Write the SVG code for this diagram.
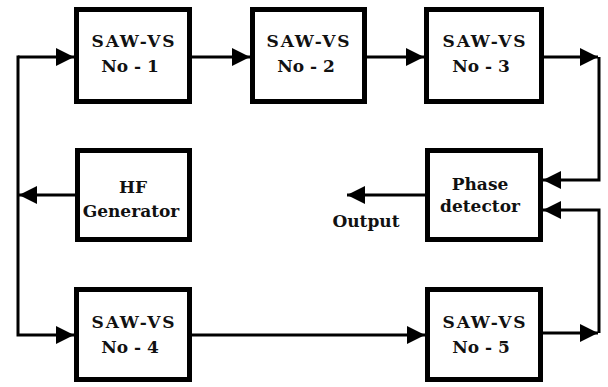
<svg xmlns="http://www.w3.org/2000/svg" width="608" height="387" viewBox="0 0 608 387">
<style>
.box{fill:#fff;stroke:#000;stroke-width:5}
.t{font-family:"DejaVu Serif","Liberation Serif",serif;font-weight:bold;font-size:17px;text-anchor:middle;fill:#111}
.w{letter-spacing:1.8px}
.c{fill:none;stroke:#000;stroke-width:3}
</style>
<defs>
<marker id="ah" markerUnits="userSpaceOnUse" markerWidth="19" markerHeight="19" refX="18" refY="9" orient="auto">
<path d="M0,0 L18,9 L0,18 z" fill="#000"/>
</marker>
</defs>
<rect width="608" height="387" fill="#fff"/>
<g id="connectors">
<path class="c" d="M192,57 L250,57" marker-end="url(#ah)"/>
<path class="c" d="M367,57 L424,57" marker-end="url(#ah)"/>
<path class="c" d="M544,57 L598,57" marker-end="url(#ah)"/>
<path class="c" d="M599,57 L599,180 L543,180" marker-end="url(#ah)"/>
<path class="c" d="M599,333 L599,210 L543,210" marker-end="url(#ah)"/>
<path class="c" d="M543,333 L598,333" marker-end="url(#ah)"/>
<path class="c" d="M425,195 L347,195" marker-end="url(#ah)"/>
<path class="c" d="M75,195 L19,195" marker-end="url(#ah)"/>
<path class="c" d="M18,57 L74,57" marker-end="url(#ah)"/>
<path class="c" d="M18,55.5 L18,335 L74,335" marker-end="url(#ah)"/>
<path class="c" d="M192,335 L425,335" marker-end="url(#ah)"/>
</g>
<g id="saw1"><rect class="box" x="76.5" y="9.5" width="113" height="92"/><text class="t w" x="134" y="47">SAW-VS</text><text class="t" x="130" y="72">No - 1</text></g>
<g id="saw2"><rect class="box" x="252.5" y="9.5" width="112" height="92"/><text class="t w" x="309" y="47">SAW-VS</text><text class="t" x="306" y="72">No - 2</text></g>
<g id="saw3"><rect class="box" x="426.5" y="9.5" width="115" height="92"/><text class="t w" x="485" y="47">SAW-VS</text><text class="t" x="481" y="72">No - 3</text></g>
<g id="hf"><rect class="box" x="77.5" y="150.5" width="112" height="89"/><text class="t" x="133" y="193">HF</text><text class="t" x="131" y="217">Generator</text></g>
<g id="phase"><rect class="box" x="427.5" y="150.5" width="113" height="89"/><text class="t" x="480" y="190">Phase</text><text class="t" x="480" y="212">detector</text></g>
<text class="t" x="366" y="227">Output</text>
<g id="saw4"><rect class="box" x="76.5" y="289.5" width="113" height="90"/><text class="t w" x="134" y="328">SAW-VS</text><text class="t" x="130" y="353">No - 4</text></g>
<g id="saw5"><rect class="box" x="427.5" y="289.5" width="113" height="90"/><text class="t w" x="485" y="328">SAW-VS</text><text class="t" x="481" y="353">No - 5</text></g>
</svg>
